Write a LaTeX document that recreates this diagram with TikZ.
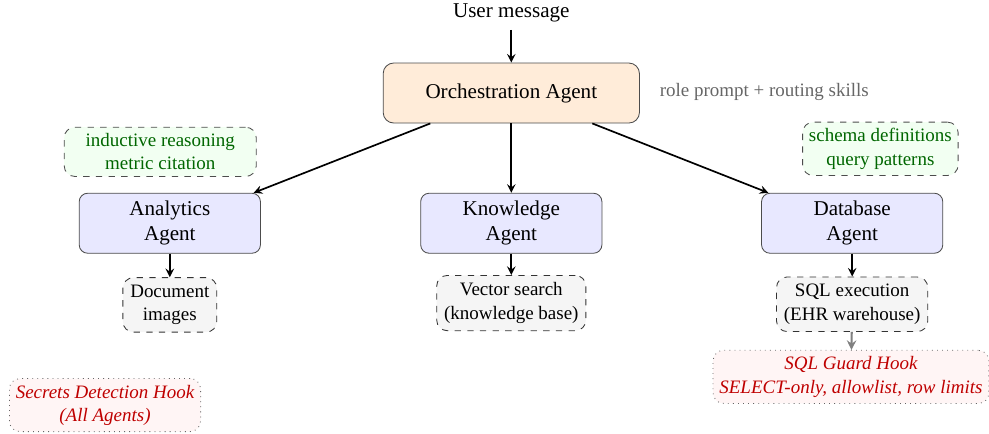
\documentclass[tikz,border=0pt]{standalone}
\usepackage{fontspec}
\setmainfont{Liberation Serif}
\usepackage{tikz}
\usetikzlibrary{arrows,positioning,calc,shapes}

\tikzset{
  agent/.style={draw=black!70,rounded corners=4pt,fill=blue!9,minimum width=3.02cm,minimum height=1cm,align=center},
  orchbox/.style={draw=black!70,rounded corners=5pt,fill=orange!15,minimum width=4.27cm,minimum height=1cm},
  skillnote/.style={draw=black!70,dashed,rounded corners=5pt,fill=green!5,text=green!40!black,font=\small,align=center,inner sep=3pt},
  toolbox/.style={draw=black!80,dashed,rounded corners=5pt,fill=black!4,font=\small,align=center,inner sep=3.5pt},
  hookbox/.style={draw=black!60,dotted,rounded corners=5pt,fill=red!4,text=red!75!black,font=\small\itshape,align=center,inner sep=3pt},
  flow/.style={->,>=stealth,thick}
}

\begin{document}
\begin{tikzpicture}
\useasboundingbox (0,0) rectangle (16.48,-7.22);

% Entry
\node (user) at (8.52,-0.22) {User message};
\node[orchbox] (orch) at (8.52,-1.55) {Orchestration Agent};
\node[anchor=west,text=black!60,font=\small] (orchnote) at (10.87,-1.53) {role prompt + routing skills};
\draw[flow] (user) -- (orch);

% Agents
\node[agent] (ana) at (2.83,-3.72) {Analytics\\Agent};
\node[agent] (know) at (8.52,-3.72) {Knowledge\\Agent};
\node[agent] (db) at (14.2,-3.72) {Database\\Agent};
\draw[flow] ([xshift=-1.35cm]orch.south) -- ([xshift=-0.12cm]ana.north east);
\draw[flow] (orch) -- (know);
\draw[flow] ([xshift=1.35cm]orch.south) -- ([xshift=0.12cm]db.north west);

% Skills
\node[skillnote,minimum width=3.2cm] (anaskill) at (2.67,-2.53) {inductive reasoning\\metric citation};
\node[skillnote] (dbskill) at (14.67,-2.48) {schema definitions\\query patterns};

% Tools
\node[toolbox] (docs) at (2.83,-5.08) {Document\\images};
\node[toolbox] (vec) at (8.52,-5.05) {Vector search\\(knowledge base)};
\node[toolbox] (sql) at (14.2,-5.07) {SQL execution\\(EHR warehouse)};
\draw[flow] (ana) -- (docs);
\draw[flow] (know) -- (vec);
\draw[flow] (db) -- (sql);

% Hooks
\node[hookbox] (guard) at (14.18,-6.28) {SQL Guard Hook\\SELECT-only, allowlist, row limits};
\node[hookbox] (secrets) at (1.75,-6.75) {Secrets Detection Hook\\(All Agents)};
\draw[flow,gray,line width=1pt] (sql) -- (guard);
\end{tikzpicture}
\end{document}
